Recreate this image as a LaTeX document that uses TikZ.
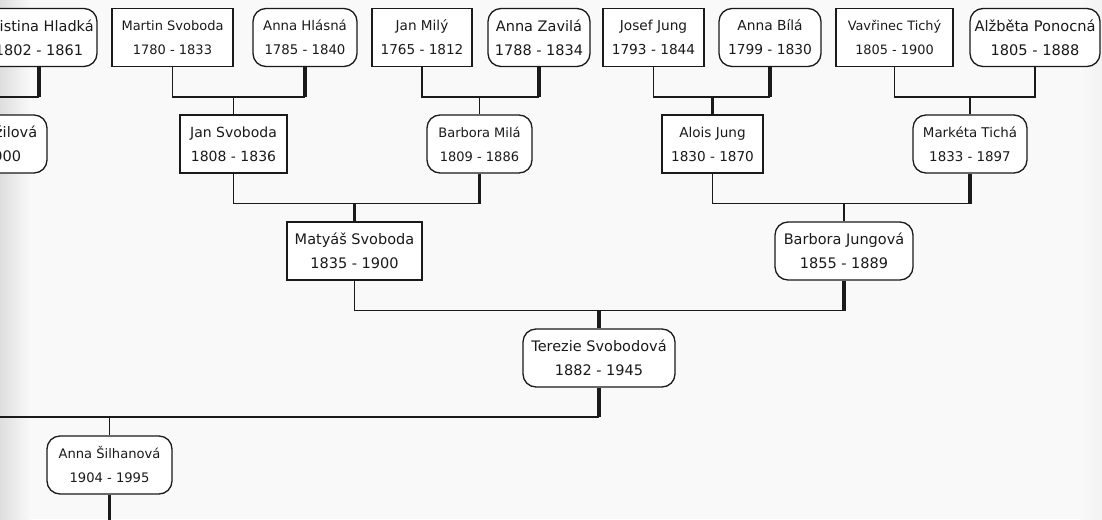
\documentclass[tikz,border=0pt]{standalone}
\usepackage{fontspec}
\setmainfont{DejaVu Sans}
\definecolor{bgcol}{HTML}{F9F9F9}
\definecolor{ink}{HTML}{1A1A1A}
\newcommand\pfs[1]{\fontsize{#1}{24}\selectfont}
\tikzset{
  person/.style={draw=ink, fill=white, line width=1.3pt, minimum height=58pt,
    inner sep=0pt, align=center, text=ink},
  man/.style={person, minimum width=#1},
  woman/.style={person, rounded corners=13pt, minimum width=#1},
  thinline/.style={draw=ink, line width=1.5pt},
  thickline/.style={draw=ink, line width=3.5pt},
}
\begin{document}
\begin{tikzpicture}[x=1pt,y=-1pt]
\useasboundingbox (0,0) rectangle (1102,519);
\clip (0,0) rectangle (1102,519);
\fill[bgcol] (0,0) rectangle (1102,519);
\shade[left color=black!13, right color=bgcol] (0,0) rectangle (30,519);
\shade[left color=bgcol, right color=black!5] (1080,0) rectangle (1102,519);

% levels and free ends
\coordinate (L1) at (0,97);
\coordinate (L2) at (0,203.5);
\coordinate (L3) at (0,310.5);
\coordinate (L4) at (0,417);
\coordinate (W1) at (-10,97);
\coordinate (W4) at (-10,417);
\coordinate (Bot) at (0,530);

% generation 1
\node[woman=116pt, font=\pfs{14.5}] (kristina) at (39,37.5) {Kristina Hladká\\1802 - 1861};
\node[man=121pt, font=\pfs{13}] (martin) at (172.5,37.5) {Martin Svoboda\\1780 - 1833};
\node[woman=104pt, font=\pfs{13.3}] (hlasna) at (305,37.5) {Anna Hlásná\\1785 - 1840};
\node[man=100pt, font=\pfs{13.6}] (mily) at (422,37.5) {Jan Milý\\1765 - 1812};
\node[woman=102pt, font=\pfs{14.5}] (zavila) at (539,37.5) {Anna Zavilá\\1788 - 1834};
\node[man=101pt, font=\pfs{13.7}] (josef) at (653.5,37.5) {Josef Jung\\1793 - 1844};
\node[woman=102pt, font=\pfs{13.8}] (bila) at (770,37.5) {Anna Bílá\\1799 - 1830};
\node[man=117pt, font=\pfs{12.9}] (vavrinec) at (894.5,37.5) {Vavřinec Tichý\\1805 - 1900};
\node[woman=130pt, font=\pfs{14.6}] (alzbeta) at (1035,37.5) {Alžběta Ponocná\\1805 - 1888};

% generation 2
\node[woman=140pt, font=\pfs{14.5}] (zilova) at (-23,144) {Kristina Božilová\\1830 - 1900};
\node[man=107pt, font=\pfs{14}] (jansv) at (233.5,144) {Jan Svoboda\\1808 - 1836};
\node[woman=105pt, font=\pfs{13}] (barmila) at (479.5,144) {Barbora Milá\\1809 - 1886};
\node[man=101pt, font=\pfs{13.6}] (alois) at (712.5,144) {Alois Jung\\1830 - 1870};
\node[woman=114pt, font=\pfs{13.4}] (marketa) at (970,144) {Markéta Tichá\\1833 - 1897};

% generation 3
\node[man=135pt, font=\pfs{14.5}] (matyas) at (354.5,251) {Matyáš Svoboda\\1835 - 1900};
\node[woman=138pt, font=\pfs{14.5}] (barjung) at (844,251) {Barbora Jungová\\1855 - 1889};

% generation 4
\node[woman=152pt, font=\pfs{14.5}] (terezie) at (599,358) {Terezie Svobodová\\1882 - 1945};

% generation 5
\node[woman=125pt, font=\pfs{13.1}] (annas) at (109.5,465) {Anna Šilhanová\\1904 - 1995};

% connectors
\draw[thickline] (kristina.south) -- (kristina.south |- L1);
\draw[thinline] (kristina.south |- L1) -- (W1);

\draw[thinline] (martin.south) |- (hlasna.south |- L1);
\draw[thickline] (hlasna.south) -- (hlasna.south |- L1);
\draw[thinline] (jansv.north |- L1) -- (jansv.north);

\draw[thinline] (mily.south) |- (zavila.south |- L1);
\draw[thickline] (zavila.south) -- (zavila.south |- L1);
\draw[thinline] (barmila.north |- L1) -- (barmila.north);

\draw[thinline] (josef.south) |- (bila.south |- L1);
\draw[thickline] (bila.south) -- (bila.south |- L1);
\draw[thickline] (alois.north |- L1) -- (alois.north);

\draw[thinline] (vavrinec.south) |- (alzbeta.south |- L1) -- (alzbeta.south);
\draw[thinline] (marketa.north |- L1) -- (marketa.north);

\draw[thinline] (jansv.south) |- (barmila.south |- L2);
\draw[thickline] (barmila.south) -- (barmila.south |- L2);
\draw[thickline] (matyas.north |- L2) -- (matyas.north);

\draw[thinline] (alois.south) |- (marketa.south |- L2);
\draw[thickline] (marketa.south) -- (marketa.south |- L2);
\draw[thinline] (barjung.north |- L2) -- (barjung.north);

\draw[thinline] (matyas.south) |- (barjung.south |- L3);
\draw[thickline] (barjung.south) -- (barjung.south |- L3);
\draw[thickline] (terezie.north |- L3) -- (terezie.north);

\draw[thinline] (W4) -- (terezie.south |- L4);
\draw[thickline] (terezie.south) -- (terezie.south |- L4);
\draw[thinline] (annas.north |- L4) -- (annas.north);

\draw[thickline] (annas.south) -- (annas.south |- Bot);
\end{tikzpicture}
\end{document}
